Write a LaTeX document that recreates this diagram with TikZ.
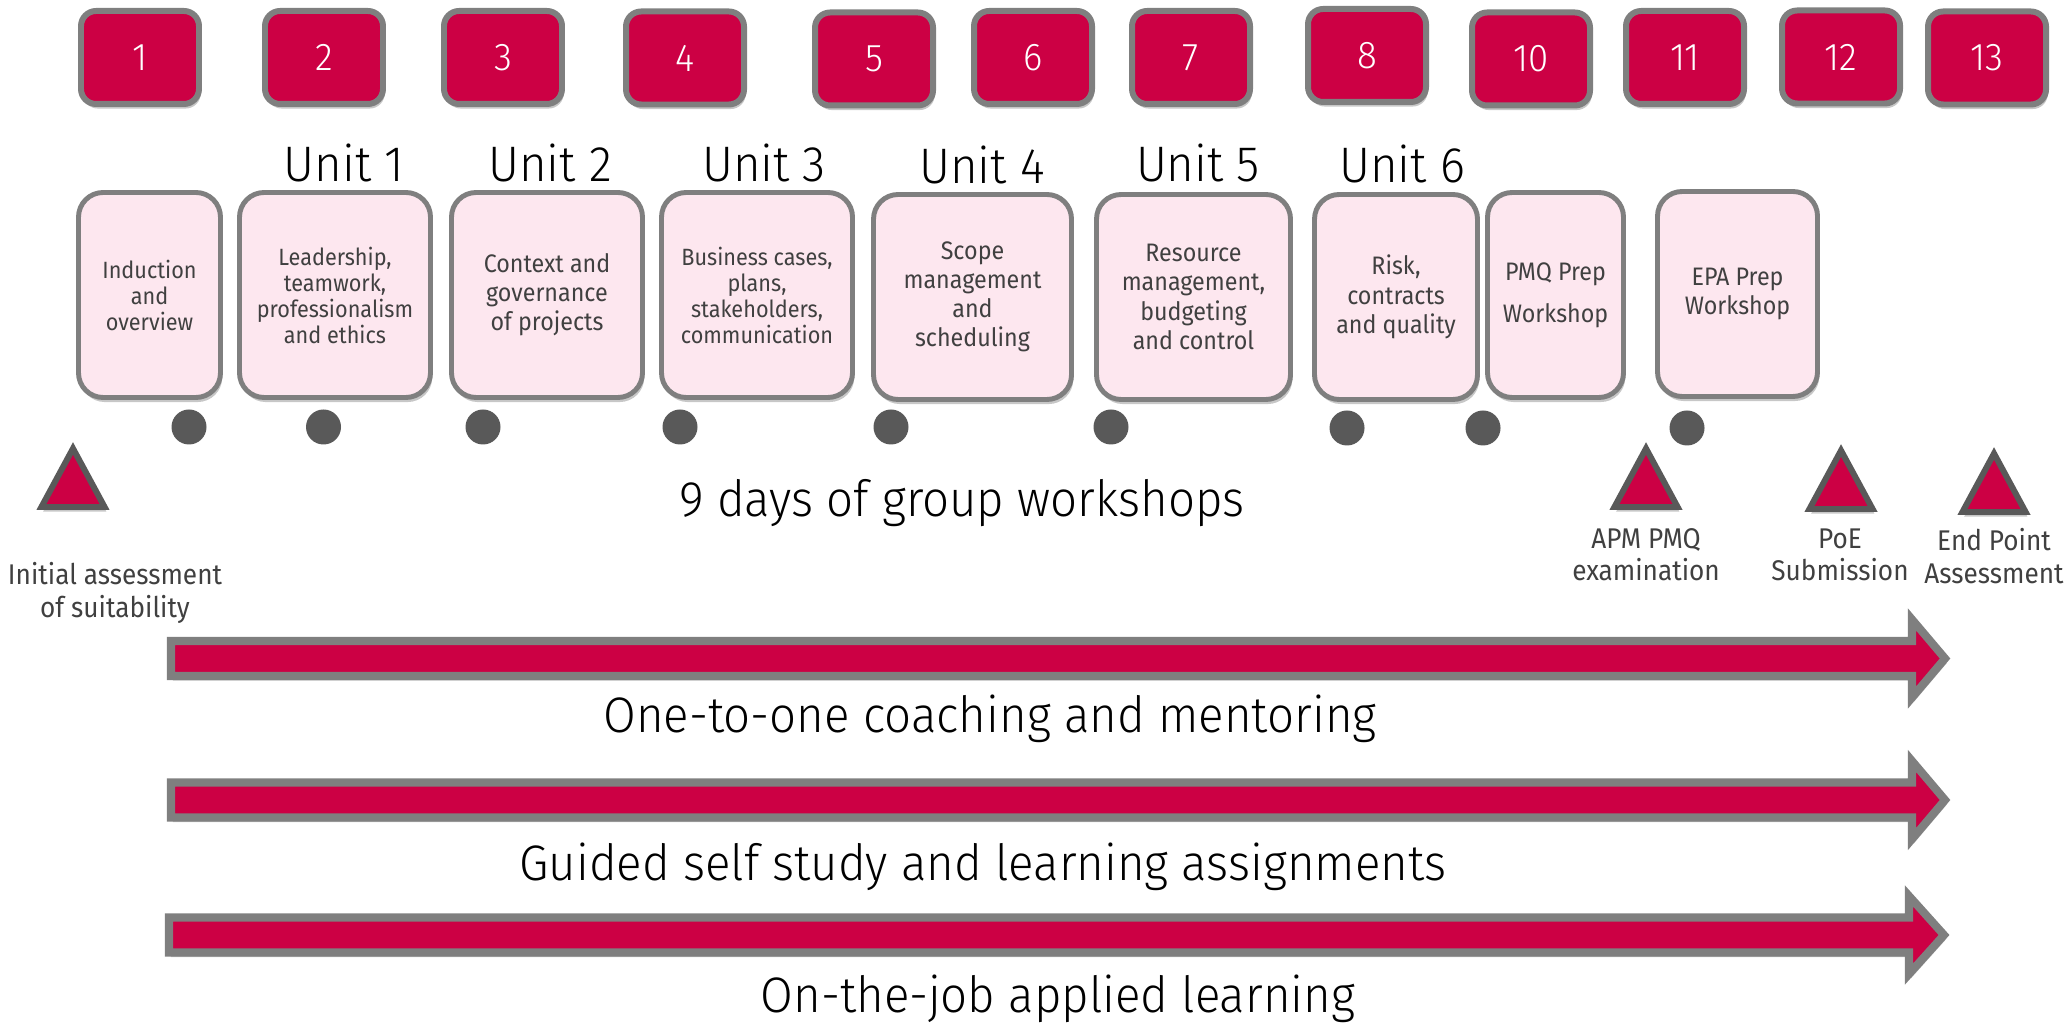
\documentclass[tikz,border=0pt]{standalone}
\usepackage{fontspec}
\setmainfont{Fira Sans}[FakeStretch=0.92]
\newfontfamily\lightfont{Fira Sans Light}[FakeStretch=0.95]
\usepackage{tikz}
\usetikzlibrary{shadows}
\definecolor{crimson}{RGB}{204,0,68}
\definecolor{rimgray}{RGB}{127,127,127}
\definecolor{dotgray}{RGB}{89,89,89}
\definecolor{pinkfill}{RGB}{253,231,239}
\definecolor{textgray}{RGB}{64,64,64}
\newcommand{\bigtxt}{\lightfont\fontsize{14.2}{17}\selectfont}
\newcommand{\numtxt}{\lightfont\fontsize{11}{13}\selectfont}
\newcommand{\toptxt}{\fontsize{6.7}{7.4}\selectfont}
\newcommand{\toptxtb}{\fontsize{7.2}{8.3}\selectfont}
\newcommand{\labtxt}{\fontsize{8.1}{9.2}\selectfont}

\begin{document}
\begin{tikzpicture}[x=1cm,y=1cm,
  soft/.style={drop shadow={shadow xshift=0.5pt,shadow yshift=-1.3pt,opacity=0.22,fill=black}},
  week/.style={draw=rimgray,line width=1.7pt,fill=crimson,rounded corners=4.3pt,minimum width=1.18cm,minimum height=0.93cm,inner sep=0pt,text=white,font=\numtxt,soft},
  topic/.style={draw=rimgray,line width=1.4pt,fill=pinkfill,rounded corners=7pt,minimum height=2.05cm,inner sep=1pt,align=center,text=textgray,soft},
  day/.style={fill=dotgray,circle,inner sep=0pt,minimum size=0.35cm},
  marker/.style={draw=dotgray,line width=1.7pt,fill=crimson,soft},
  band/.style={draw=rimgray,line width=2.3pt,fill=crimson,soft},
  unit/.style={font=\bigtxt,anchor=base,inner sep=0pt},
  milestone/.style={font=\labtxt,text=textgray,align=center,anchor=north,inner sep=0pt}]
\useasboundingbox (0,0) rectangle (20.65,-10.23);

  \node (wk1) at (1.40,-0.575) [week] {1};
  \node (wk2) at (3.24,-0.575) [week] {2};
  \node (wk3) at (5.03,-0.575) [week] {3};
  \node (wk4) at (6.85,-0.58) [week] {4};
  \node (wk5) at (8.74,-0.59) [week] {5};
  \node (wk6) at (10.33,-0.575) [week] {6};
  \node (wk7) at (11.91,-0.575) [week] {7};
  \node (wk8) at (13.67,-0.555) [week] {8};
  \node (wk10) at (15.31,-0.59) [week] {10};
  \node (wk11) at (16.85,-0.575) [week] {11};
  \node (wk12) at (18.41,-0.57) [week] {12};
  \node (wk13) at (19.87,-0.58) [week] {13};

  \node (u1) at (3.44,-1.82) [unit] {Unit 1};
  \node (u2) at (5.50,-1.82) [unit] {Unit 2};
  \node (u3) at (7.64,-1.82) [unit] {Unit 3};
  \node (u4) at (9.82,-1.84) [unit] {Unit 4};
  \node (u5) at (11.98,-1.82) [unit] {Unit 5};
  \node (u6) at (14.02,-1.83) [unit] {Unit 6};

  \node (induct) at (1.495,-2.95) [topic,minimum width=1.42cm,font=\toptxt] {Induction\\and\\overview};
  \node (lead) at (3.35,-2.95) [topic,minimum width=1.91cm,font=\toptxt] {Leadership,\\teamwork,\\professionalism\\and ethics};
  \node (context) at (5.47,-2.95) [topic,minimum width=1.91cm,font=\toptxtb] {Context and\\governance\\of projects};
  \node (business) at (7.57,-2.95) [topic,minimum width=1.91cm,font=\toptxt] {Business cases,\\plans,\\stakeholders,\\communication};
  \node (scope) at (9.725,-2.97) [topic,minimum width=1.98cm,font=\toptxtb] {Scope\\management\\and\\scheduling};
  \node (resource) at (11.935,-2.97) [topic,minimum width=1.94cm,font=\toptxtb] {Resource\\management,\\budgeting\\and control};
  \node (risk) at (13.96,-2.97) [topic,minimum width=1.63cm,font=\toptxtb] {Risk,\\contracts\\and quality};
  \node (pmq) at (15.555,-2.95) [topic,minimum width=1.36cm,font=\fontsize{7.2}{12}\selectfont] {PMQ Prep\\Workshop};
  \node (epa) at (17.375,-2.94) [topic,minimum width=1.60cm,font=\fontsize{7.2}{8.3}\selectfont] {EPA Prep\\Workshop};

  \node (d1) at (1.89,-4.27) [day] {};
  \node (d2) at (3.235,-4.27) [day] {};
  \node (d3) at (4.83,-4.27) [day] {};
  \node (d4) at (6.80,-4.27) [day] {};
  \node (d5) at (8.91,-4.27) [day] {};
  \node (d6) at (11.11,-4.27) [day] {};
  \node (d7) at (13.47,-4.28) [day] {};
  \node (d8) at (14.83,-4.28) [day] {};
  \node (d9) at (16.87,-4.28) [day] {};

  \node (group) at (9.62,-5.17) [unit] {9 days of group workshops};

  \draw [marker] (0.414,-5.07) -- (0.73,-4.485) -- (1.046,-5.07) -- cycle;
  \draw [marker] (16.144,-5.07) -- (16.46,-4.485) -- (16.776,-5.07) -- cycle;
  \draw [marker] (18.094,-5.09) -- (18.41,-4.505) -- (18.726,-5.09) -- cycle;
  \draw [marker] (19.624,-5.12) -- (19.94,-4.535) -- (20.256,-5.12) -- cycle;

  \node (initial) at (1.15,-5.62) [milestone] {Initial assessment\\of suitability};
  \node (apm) at (16.46,-5.28) [milestone] {APM PMQ\\examination};
  \node (poe) at (18.40,-5.28) [milestone] {PoE\\Submission};
  \node (endpoint) at (19.94,-5.28) [milestone] {End Point\\Assessment};

  \draw [band] (1.71,-6.41) -- (19.12,-6.41) -- (19.12,-6.195) -- (19.45,-6.585) -- (19.12,-6.975) -- (19.12,-6.76) -- (1.71,-6.76) -- cycle;
  \draw [band] (1.71,-7.825) -- (19.12,-7.825) -- (19.12,-7.61) -- (19.45,-8.00) -- (19.12,-8.39) -- (19.12,-8.175) -- (1.71,-8.175) -- cycle;
  \draw [band] (1.69,-9.175) -- (19.09,-9.175) -- (19.09,-8.96) -- (19.44,-9.35) -- (19.09,-9.74) -- (19.09,-9.525) -- (1.69,-9.525) -- cycle;

  \node (coach) at (9.90,-7.32) [unit] {One-to-one coaching and mentoring};
  \node (self) at (9.83,-8.80) [unit] {Guided self study and learning assignments};
  \node (job) at (10.58,-10.12) [unit] {On-the-job applied learning};
\end{tikzpicture}
\end{document}
